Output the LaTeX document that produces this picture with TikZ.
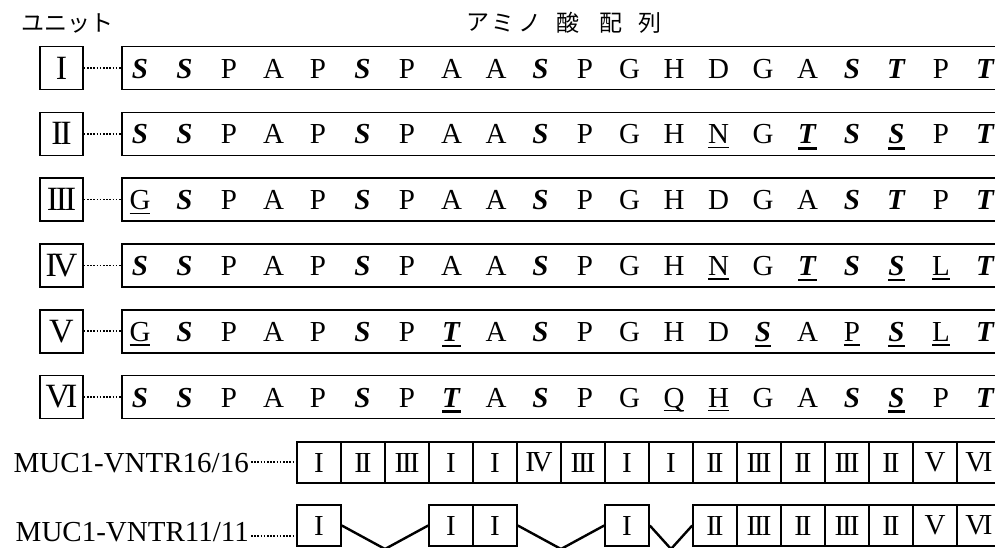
\documentclass[tikz,border=0pt]{standalone}
\usepackage{fontspec}
\setmainfont{Liberation Serif}
\newfontfamily\jp{Noto Sans CJK JP}
\usetikzlibrary{calc}
\newcommand\bi[1]{\textbf{\textit{#1}}}
\newcommand\ulx[3]{\setbox0=\hbox{#3}\rlap{\rule[#1]{\wd0}{#2}}\box0}
\newcommand\ulthin[1]{\ulx{-0.15em}{1.3pt}{#1}}
\newcommand\ulbold[1]{\ulx{-0.2em}{2.4pt}{\bi{#1}}}
\newcommand\rI{I}
\newcommand\rII{I\kern-0.07em I}
\newcommand\rIII{I\kern-0.07em I\kern-0.07em I}
\newcommand\rIV{I\kern-0.12em V}
\newcommand\rV{V}
\newcommand\rVI{V\kern-0.12em I}
\newcommand\letters[3]{\foreach \t [count=\i from 0] in {#3} {\node[aa] (l#1-\i) at ({140+44.5*\i},{#2+10}) {\t};}}
\tikzset{
  aa/.style={anchor=base, inner sep=0pt, font=\fontsize{29}{32}\selectfont},
  seqbox/.style={draw, line width=1.6pt, anchor=west, minimum width=900pt, minimum height=43pt, inner sep=0pt},
  unitbox/.style={draw, line width=1.6pt, minimum width=43pt, minimum height=43pt, inner sep=0pt, font=\fontsize{34}{36}\selectfont},
  cbox/.style={draw, line width=1.6pt, minimum width=44pt, minimum height=41pt, inner sep=0pt, font=\fontsize{29}{30}\selectfont},
  dotline/.style={line width=1.6pt, dash pattern=on 1.6pt off 1.6pt},
  vline/.style={line width=2.4pt},
  jpt/.style={inner sep=0pt, font=\jp\fontsize{23}{25}\selectfont},
  mt/.style={inner sep=0pt, font=\fontsize{29}{32}\selectfont},
}
\begin{document}
\begin{tikzpicture}[x=1pt, y=-1pt]
\useasboundingbox (0,0) rectangle (995,547);
\clip (0,0) rectangle (995,547);
\fill[white] (0,0) rectangle (995,547);
% headers
\node[jpt] (hu) at (67,23) {ユニット};
\node[jpt] (h1) at (478,23) {ア};
\node[jpt] (h2) at (503,23) {ミ};
\node[jpt] (h3) at (530,23) {ノ};
\node[jpt] (h4) at (568,23) {酸};
\node[jpt] (h5) at (611,23) {配};
\node[jpt] (h6) at (650,23) {列};
% rows
\node[unitbox] (u1) at (61.5,68) {\rI};
\node[seqbox] (s1) at (121,68) {};
\draw[dotline] (u1) -- (s1);
\letters{1}{68}{\bi{S},\bi{S},P,A,P,\bi{S},P,A,A,\bi{S},P,G,H,D,G,A,\bi{S},\bi{T},P,\bi{T}}

\node[unitbox] (u2) at (61.5,133.8) {\rII};
\node[seqbox] (s2) at (121,133.8) {};
\draw[dotline] (u2) -- (s2);
\letters{2}{133.8}{\bi{S},\bi{S},P,A,P,\bi{S},P,A,A,\bi{S},P,G,H,\ulthin{N},G,\ulbold{T},\bi{S},\ulbold{S},P,\bi{T}}

\node[unitbox] (u3) at (61.5,199.6) {\rIII};
\node[seqbox] (s3) at (121,199.6) {};
\draw[dotline] (u3) -- (s3);
\letters{3}{199.6}{\ulthin{G},\bi{S},P,A,P,\bi{S},P,A,A,\bi{S},P,G,H,D,G,A,\bi{S},\bi{T},P,\bi{T}}

\node[unitbox] (u4) at (61.5,265.4) {\rIV};
\node[seqbox] (s4) at (121,265.4) {};
\draw[dotline] (u4) -- (s4);
\letters{4}{265.4}{\bi{S},\bi{S},P,A,P,\bi{S},P,A,A,\bi{S},P,G,H,\ulthin{N},G,\ulbold{T},\bi{S},\ulbold{S},\ulthin{L},\bi{T}}

\node[unitbox] (u5) at (61.5,331.2) {\rV};
\node[seqbox] (s5) at (121,331.2) {};
\draw[dotline] (u5) -- (s5);
\letters{5}{331.2}{\ulthin{G},\bi{S},P,A,P,\bi{S},P,\ulbold{T},A,\bi{S},P,G,H,D,\ulbold{S},A,\ulthin{P},\ulbold{S},\ulthin{L},\bi{T}}

\node[unitbox] (u6) at (61.5,397) {\rVI};
\node[seqbox] (s6) at (121,397) {};
\draw[dotline] (u6) -- (s6);
\letters{6}{397}{\bi{S},\bi{S},P,A,P,\bi{S},P,\ulbold{T},A,\bi{S},P,G,\ulthin{Q},\ulthin{H},G,A,\bi{S},\ulbold{S},P,\bi{T}}

% MUC1 16/16
\node[mt, anchor=base east] (m16) at (249,472) {MUC1-VNTR16/16};
\foreach \n [count=\k from 0] in {\rI,\rII,\rIII,\rI,\rI,\rIV,\rIII,\rI,\rI,\rII,\rIII,\rII,\rIII,\rII,\rV,\rVI}
  {\node[cbox] (b\k) at ({319+44*\k},462.5) {\n};}
\coordinate (d16) at ($(m16.base east)+(2,-10)$);
\draw[dotline] (d16) -- (d16 -| b0.west);

% MUC1 11/11
\node[mt, anchor=base east] (m11) at (249,541) {MUC1-VNTR11/11};
\foreach \n/\k in {\rI/0,\rI/3,\rI/4,\rI/7,\rII/9,\rIII/10,\rII/11,\rIII/12,\rII/13,\rV/14,\rVI/15}
  {\node[cbox] (c\k) at ({319+44*\k},525.5) {\n};}
\coordinate (d11) at ($(m11.base east)+(2,-5)$);
\draw[dotline] (d11) -- (d11 -| c0.west);
\coordinate (v1) at (385,549);
\coordinate (v2) at (561,549);
\coordinate (v3) at (671,549);
\draw[vline] (c0.east) -- (v1) -- (c3.west);
\draw[vline] (c4.east) -- (v2) -- (c7.west);
\draw[vline] (c7.east) -- (v3) -- (c9.west);
\end{tikzpicture}
\end{document}
